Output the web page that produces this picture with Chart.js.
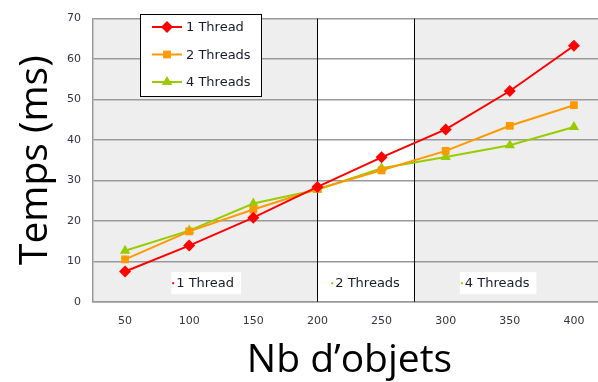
<!DOCTYPE html>
<html>
<head>
<meta charset="utf-8">
<script src="https://cdn.jsdelivr.net/npm/chart.js@4"></script>
<style>
html,body{margin:0;padding:0;background:#fff;overflow:hidden;}
#wrap{width:598px;height:382px;overflow:hidden;}
</style>
</head>
<body>
<div id="wrap"><canvas id="perfChart" width="612" height="382"></canvas></div>
<script>
// categories (nb d'objets)
const nbObjets = ['50','100','150','200','250','300','350','400'];

// temps en ms
const oneThread   = [7.5, 13.9, 20.8, 28.4, 35.7, 42.6, 52.1, 63.3];
const twoThreads  = [10.5, 17.4, 22.8, 27.9, 32.5, 37.3, 43.5, 48.6];
const fourThreads = [12.6, 17.6, 24.3, 27.7, 33.0, 35.8, 38.7, 43.2];

const seriesNames = ['1 Thread', '2 Threads', '4 Threads'];
const yTicks = [0, 10, 20, 30, 40, 50, 60, 70];

// zone limits, as category positions (white zone = 2 threads)
const zoneEdges = [3, 4.5];
const zoneLabels = ['1 Thread', '2 Threads', '4 Threads'];
const zoneLabelPos = [0.72, 3.2, 5.22];
const zoneLabelVal = 4.6;

const colors = ['#ff0000', '#ff9900', '#99cc00'];
const markers = ['rectRot', 'rect', 'triangle'];

const zonesPlugin = {
  id: 'zones',
  beforeDraw(chart){
    const ctx = chart.ctx, a = chart.chartArea, x = chart.scales.x;
    const x1 = x.getPixelForValue(zoneEdges[0]);
    const x2 = x.getPixelForValue(zoneEdges[1]);
    ctx.save();
    ctx.fillStyle = '#eeeeee';
    ctx.fillRect(a.left, a.top, a.right - a.left, a.bottom - a.top);
    ctx.fillStyle = '#ffffff';
    ctx.fillRect(x1, a.top, x2 - x1, a.bottom - a.top);
    ctx.restore();
  },
  beforeDatasetsDraw(chart){
    const ctx = chart.ctx, a = chart.chartArea, x = chart.scales.x;
    ctx.save();
    ctx.strokeStyle = '#000';
    ctx.lineWidth = 1;
    zoneEdges.forEach(e => {
      const px = Math.round(x.getPixelForValue(e)) + 0.5;
      ctx.beginPath();
      ctx.moveTo(px, a.top);
      ctx.lineTo(px, a.bottom);
      ctx.stroke();
    });
    ctx.restore();
  },
  afterDatasetsDraw(chart){
    const ctx = chart.ctx, x = chart.scales.x, y = chart.scales.y;
    ctx.save();
    ctx.font = '13px "DejaVu Sans"';
    ctx.textBaseline = 'middle';
    // zone labels
    zoneLabels.forEach((t, i) => {
      const px = x.getPixelForValue(zoneLabelPos[i]);
      const py = y.getPixelForValue(zoneLabelVal);
      const w = ctx.measureText(t).width;
      ctx.fillStyle = '#fff';
      ctx.fillRect(px, py - 11, w + 12, 22);
      ctx.fillStyle = colors[i];
      ctx.fillRect(px + 1, py - 1, 2, 2);
      ctx.fillStyle = '#1a1a2e';
      ctx.fillText(t, px + 5, py);
    });
    // legend box
    const lx = 140, ly = 14, lw = 121, lh = 82;
    ctx.fillStyle = '#fff';
    ctx.fillRect(lx, ly, lw, lh);
    ctx.strokeStyle = '#000';
    ctx.lineWidth = 1;
    ctx.strokeRect(lx + 0.5, ly + 0.5, lw, lh);
    seriesNames.forEach((n, i) => {
      const ry = ly + 13 + i * 27.5;
      ctx.strokeStyle = colors[i];
      ctx.lineWidth = 2;
      ctx.beginPath();
      ctx.moveTo(lx + 12, ry);
      ctx.lineTo(lx + 42, ry);
      ctx.stroke();
      ctx.fillStyle = colors[i];
      Chart.helpers.drawPoint(ctx, {pointStyle: markers[i], radius: i === 1 ? 5.5 : 6, rotation: 0}, lx + 27, ry);
      ctx.fillStyle = '#1a1a2e';
      ctx.fillText(n, lx + 46, ry + 1);
    });
    ctx.restore();
  }
};

const ctx = document.getElementById('perfChart').getContext('2d');
const sets = [oneThread, twoThreads, fourThreads].map((d, i) => ({
  label: seriesNames[i],
  data: d,
  borderColor: colors[i],
  backgroundColor: colors[i],
  borderWidth: 2,
  pointStyle: markers[i],
  pointRadius: i === 1 ? 5.5 : 6,
  pointBorderWidth: 0,
  tension: 0
}));

new Chart(ctx, {
  type: 'line',
  data: { labels: nbObjets, datasets: sets },
  options: {
    responsive: false,
    animation: false,
    devicePixelRatio: 1,
    layout: { padding: { top: 8, left: 16, right: 2, bottom: 0 } },
    plugins: { legend: { display: false }, tooltip: { enabled: false } },
    scales: {
      x: {
        offset: true,
        grid: { display: false, drawTicks: false },
        border: { color: '#999', width: 1.5 },
        ticks: { padding: 13, color: '#333344', font: { family: 'DejaVu Sans', size: 11 } },
        title: { display: true, text: 'Nb d\u2019objets', color: '#000',
          font: { family: 'Open Sans', size: 39, lineHeight: 1 }, padding: { top: 0, bottom: 2 } }
      },
      y: {
        min: 0, max: 70,
        afterBuildTicks(s){ s.ticks = yTicks.map(v => ({ value: v })); },
        grid: { color: '#999', lineWidth: 1.5, drawTicks: false },
        border: { color: '#999', width: 1.5 },
        ticks: { padding: 12, color: '#333344', font: { family: 'DejaVu Sans', size: 11 } },
        title: { display: true, text: 'Temps (ms)', color: '#000',
          font: { family: 'Open Sans', size: 39, lineHeight: 1 }, padding: { top: 0, bottom: 0 } }
      }
    }
  },
  plugins: [zonesPlugin]
});
</script>
</body>
</html>
